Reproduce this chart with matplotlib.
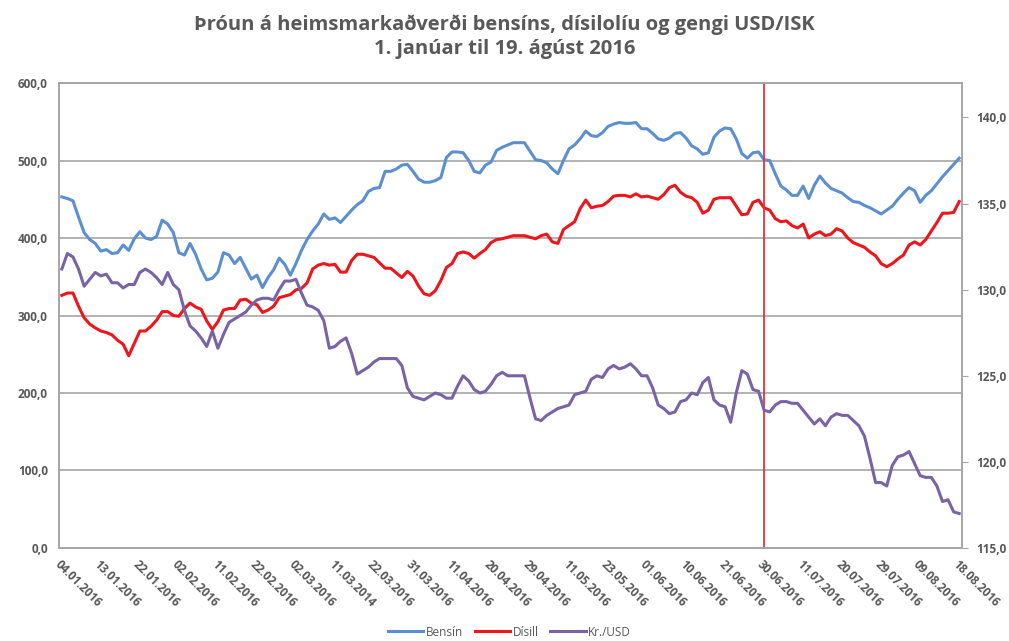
import matplotlib
matplotlib.use('Agg')
import matplotlib.pyplot as plt

plt.rcParams['font.family'] = ['Open Sans', 'DejaVu Sans']

tick_labels = ['04.01.2016', '13.01.2016', '22.01.2016', '02.02.2016', '11.02.2016', '22.02.2016',
               '02.03.2016', '11.03.2014', '22.03.2016', '31.03.2016', '11.04.2016', '20.04.2016',
               '29.04.2016', '11.05.2016', '23.05.2016', '01.06.2016', '10.06.2016', '21.06.2016',
               '30.06.2016', '11.07.2016', '20.07.2016', '29.07.2016', '09.08.2016', '18.08.2016']

bensin = [453, 451, 448, 427, 407, 398, 393, 383, 385, 380, 381, 391, 384, 399, 408, 400, 398, 402, 423, 418,
          407, 381, 378, 393, 379, 360, 346, 348, 356, 381, 378, 367, 375, 361, 347, 352, 336, 349, 359, 374,
          366, 352, 367, 384, 398, 409, 418, 431, 424, 426, 420, 428, 436, 443, 448, 460, 464, 465, 486, 486,
          489, 494, 495, 486, 476, 472, 472, 474, 478, 504, 511, 511, 510, 500, 486, 484, 494, 498, 513, 517,
          520, 523, 523, 523, 512, 501, 500, 497, 489, 483, 500, 515, 520, 528, 538, 532, 531, 536, 544, 547,
          549, 548, 548, 549, 541, 541, 535, 528, 526, 529, 535, 536, 529, 519, 515, 508, 510, 530, 538, 542,
          541, 528, 509, 503, 510, 511, 501, 500, 483, 467, 462, 455, 455, 467, 451, 468, 480, 471, 464, 461,
          458, 452, 447, 446, 442, 439, 435, 431, 436, 441, 450, 458, 465, 461, 446, 455, 461, 470, 479, 487,
          495, 503]

disill = [326, 329, 329, 312, 297, 289, 284, 280, 278, 275, 268, 263, 248, 264, 280, 280, 286, 294, 305, 305,
          300, 299, 309, 316, 311, 308, 293, 282, 292, 307, 309, 309, 320, 321, 316, 314, 304, 307, 312, 323,
          325, 327, 333, 335, 342, 360, 365, 367, 365, 366, 356, 356, 371, 379, 379, 377, 375, 368, 361, 361,
          355, 349, 357, 351, 338, 328, 326, 332, 345, 362, 367, 380, 382, 380, 374, 380, 385, 394, 398, 399,
          401, 403, 403, 403, 401, 399, 403, 405, 395, 393, 411, 416, 421, 438, 449, 439, 441, 442, 447, 454,
          455, 455, 453, 457, 453, 454, 452, 450, 456, 465, 468, 459, 454, 452, 446, 432, 436, 450, 452, 452,
          452, 441, 430, 431, 446, 449, 439, 436, 425, 421, 422, 416, 413, 418, 400, 405, 408, 403, 405, 412,
          409, 400, 394, 391, 388, 382, 377, 367, 363, 367, 373, 378, 391, 395, 391, 398, 409, 420, 432, 432,
          433, 447]

kr_usd = [131.2, 132.1, 131.9, 131.2, 130.2, 130.6, 131.0, 130.8, 130.9, 130.4, 130.4, 130.1, 130.3, 130.3,
          131.0, 131.2, 131.0, 130.7, 130.3, 131.0, 130.3, 130.0, 128.8, 127.9, 127.6, 127.2, 126.7, 127.6,
          126.6, 127.4, 128.1, 128.3, 128.5, 128.7, 129.1, 129.4, 129.5, 129.5, 129.4, 130.0, 130.5, 130.5,
          130.6, 129.8, 129.1, 129.0, 128.8, 128.2, 126.6, 126.7, 127.0, 127.2, 126.3, 125.1, 125.3, 125.5,
          125.8, 126.0, 126.0, 126.0, 126.0, 125.6, 124.3, 123.8, 123.7, 123.6, 123.8, 124.0, 123.9, 123.7,
          123.7, 124.4, 125.0, 124.7, 124.2, 124.0, 124.1, 124.5, 125.0, 125.2, 125.0, 125.0, 125.0, 125.0,
          123.7, 122.5, 122.4, 122.7, 122.9, 123.1, 123.2, 123.3, 123.9, 124.0, 124.1, 124.8, 125.0, 124.9,
          125.4, 125.6, 125.4, 125.5, 125.7, 125.4, 125.0, 125.0, 124.3, 123.3, 123.1, 122.8, 122.9, 123.5,
          123.6, 124.0, 123.9, 124.6, 124.9, 123.6, 123.3, 123.2, 122.3, 124.0, 125.3, 125.1, 124.2, 124.1,
          123.0, 122.9, 123.3, 123.5, 123.5, 123.4, 123.4, 123.0, 122.6, 122.2, 122.5, 122.1, 122.6, 122.8,
          122.7, 122.7, 122.4, 122.1, 121.5, 120.2, 118.8, 118.8, 118.6, 119.8, 120.3, 120.4, 120.6, 119.9,
          119.2, 119.1, 119.1, 118.6, 117.7, 117.8, 117.1, 117.0]

days = list(range(len(bensin)))
tick_pos = list(range(0, len(bensin), 7))
marker_day = 126

text_color = '#595959'
grid_color = '#a6a6a6'

fig = plt.figure(figsize=(10.09, 6.41), dpi=100)
ax = fig.add_axes([0.0585, 0.1451, 0.8949, 0.7254])
ax2 = ax.twinx()

l1, = ax.plot(days, bensin, color='#5b8fd2', lw=2.2, label='Bensín')
l2, = ax.plot(days, disill, color='#f0141b', lw=2.2, label='Dísill')
l3, = ax2.plot(days, kr_usd, color='#7a62a6', lw=2.2, label='Kr./USD')
ax.axvline(marker_day, color='#e8323a', lw=1.3, zorder=5)

ax.set_xlim(-0.5, len(bensin) - 0.5)
ax.set_ylim(0, 600)
ax2.set_ylim(115, 142)
ax.set_yticks(range(0, 601, 100))
ax.set_yticklabels([f'{v:.1f}'.replace('.', ',') for v in range(0, 601, 100)])
ax2.set_yticks(range(115, 141, 5))
ax2.set_yticklabels([f'{v:.1f}'.replace('.', ',') for v in range(115, 141, 5)])

ax.set_xticks(tick_pos)
ax.set_xticklabels(tick_labels, rotation=-45, ha='left', rotation_mode='anchor')

ax.grid(axis='y', color=grid_color, lw=1.2)
ax.set_axisbelow(True)
for a in (ax, ax2):
    for s in a.spines.values():
        s.set_color(grid_color)
        s.set_linewidth(1.2)
ax.tick_params(axis='y', length=0, labelsize=8.5, labelcolor=text_color, pad=8)
ax.tick_params(axis='x', length=0, labelsize=8.5, labelcolor=text_color, pad=7)
ax2.tick_params(axis='y', length=4, color=grid_color, labelsize=8.5, labelcolor=text_color, pad=6)
for lab in ax.get_xticklabels() + ax.get_yticklabels() + ax2.get_yticklabels():
    lab.set_fontweight('bold')

fig.text(0.5, 0.962, 'Þróun á heimsmarkaðverði bensíns, dísilolíu og gengi USD/ISK',
         ha='center', va='center', fontsize=14.5, fontweight='bold', color=text_color)
fig.text(0.5, 0.923, '1. janúar til 19. ágúst 2016',
         ha='center', va='center', fontsize=14.5, fontweight='bold', color=text_color)

fig.legend([l1, l2, l3], ['Bensín', 'Dísill', 'Kr./USD'], loc='center', bbox_to_anchor=(0.505, 0.014),
           ncol=3, frameon=False, fontsize=8.5, handlelength=3, handletextpad=0.2, columnspacing=1.0,
           labelcolor=text_color)

fig.savefig('out.png', dpi=100)
